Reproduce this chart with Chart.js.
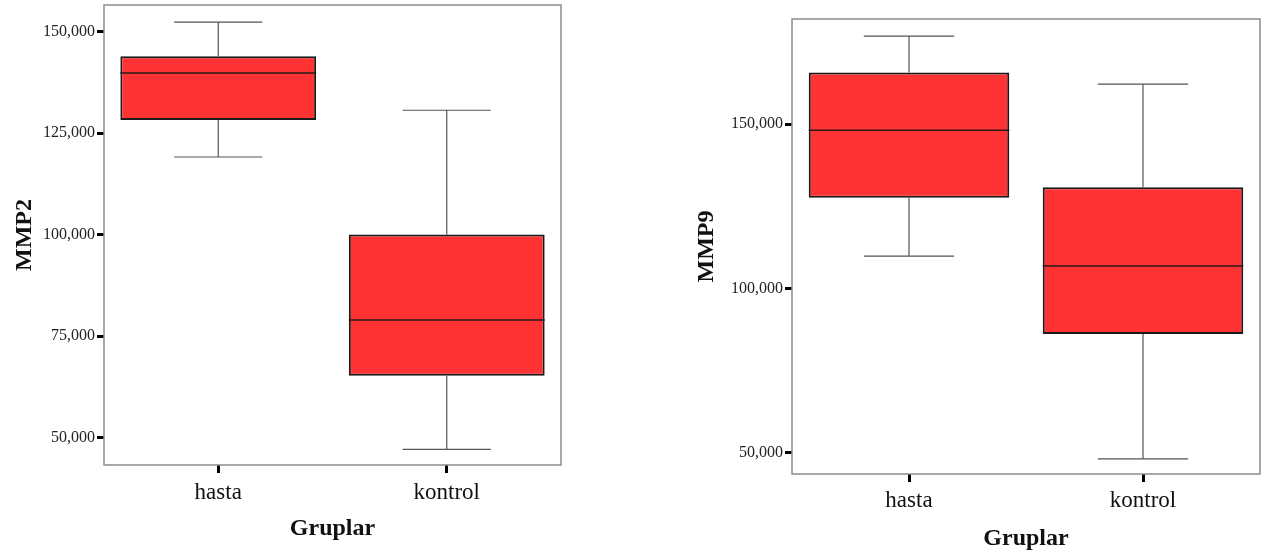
<!DOCTYPE html>
<html>
<head>
<meta charset="utf-8">
<script src="https://cdn.jsdelivr.net/npm/chart.js@4"></script>
<style>
    html, body { margin: 0; padding: 0; background: #fff; }
    body { width: 1269px; height: 554px; position: relative; overflow: hidden; }
    canvas { position: absolute; top: 0; }
    #mmp2Chart { left: 0; }
    #mmp9Chart { left: 690px; }
</style>
</head>
<body>
<canvas id="mmp2Chart" width="570" height="554"></canvas>
<canvas id="mmp9Chart" width="579" height="554"></canvas>
<script>
const groups = ['hasta', 'kontrol'];

// MMP2 kutu grafiği değerleri
const mmp2Min = [119100, 47150];
const mmp2Q1 = [128200, 65250];
const mmp2Median = [139750, 79000];
const mmp2Q3 = [143900, 100000];
const mmp2Max = [152300, 130600];
const mmp2Ticks = [50000, 75000, 100000, 125000, 150000];

// MMP9 kutu grafiği değerleri
const mmp9Min = [109800, 48100];
const mmp9Q1 = [127600, 86100];
const mmp9Median = [148100, 106800];
const mmp9Q3 = [165700, 130800];
const mmp9Max = [176800, 162200];
const mmp9Ticks = [50000, 100000, 150000];

const serif = "'Liberation Serif', 'Times New Roman', serif";

// Bıyıklar, medyan çizgisi ve çerçeve
const boxPlotExtras = {
    id: 'boxPlotExtras',
    afterDatasetsDraw(chart, args, opts) {
        const ctx = chart.ctx;
        const x = chart.scales.x;
        const y = chart.scales.y;
        const area = chart.chartArea;
        const catWidth = (area.right - area.left) / groups.length;
        const capHalf = catWidth * 0.193;
        const boxHalf = catWidth * 0.857 / 2;
        ctx.save();
        groups.forEach((g, i) => {
            const cx = x.getPixelForValue(i);
            const yMin = y.getPixelForValue(opts.min[i]);
            const yMax = y.getPixelForValue(opts.max[i]);
            const yQ1 = y.getPixelForValue(opts.q1[i]);
            const yQ3 = y.getPixelForValue(opts.q3[i]);
            const yMed = y.getPixelForValue(opts.median[i]);
            ctx.strokeStyle = '#555';
            ctx.lineWidth = 1.2;
            ctx.beginPath();
            ctx.moveTo(cx, yQ3);
            ctx.lineTo(cx, yMax);
            ctx.moveTo(cx - capHalf, yMax);
            ctx.lineTo(cx + capHalf, yMax);
            ctx.moveTo(cx, yQ1);
            ctx.lineTo(cx, yMin);
            ctx.moveTo(cx - capHalf, yMin);
            ctx.lineTo(cx + capHalf, yMin);
            ctx.stroke();
            ctx.strokeStyle = '#2a1a1a';
            ctx.lineWidth = 1.5;
            ctx.beginPath();
            ctx.moveTo(cx - boxHalf, yMed);
            ctx.lineTo(cx + boxHalf, yMed);
            ctx.stroke();
        });
        ctx.strokeStyle = '#8c8c8c';
        ctx.lineWidth = 1.5;
        ctx.strokeRect(area.left, area.top, area.right - area.left, area.bottom - area.top);
        ctx.restore();
    }
};

function createBoxChart(id, cfg) {
    const ctx = document.getElementById(id).getContext('2d');
    return new Chart(ctx, {
        type: 'bar',
        data: {
            labels: groups,
            datasets: [{
                data: groups.map((g, i) => [cfg.q1[i], cfg.q3[i]]),
                backgroundColor: '#ff3333',
                borderColor: '#1a1a1a',
                borderWidth: 2,
                borderSkipped: false,
                barPercentage: 0.857,
                categoryPercentage: 1
            }]
        },
        options: {
            responsive: false,
            animation: false,
            devicePixelRatio: 1,
            layout: { padding: cfg.padding },
            plugins: {
                legend: { display: false },
                tooltip: { enabled: false },
                boxPlotExtras: cfg
            },
            scales: {
                x: {
                    grid: {
                        offset: false,
                        drawOnChartArea: false,
                        tickLength: 8,
                        tickWidth: 3,
                        tickColor: '#000'
                    },
                    border: { display: false },
                    ticks: {
                        color: '#111',
                        padding: cfg.xTickPad,
                        font: { family: serif, size: 23 }
                    },
                    title: {
                        display: true,
                        text: 'Gruplar',
                        color: '#111',
                        padding: { top: 0, bottom: cfg.xTitlePad },
                        font: { family: serif, size: 24, weight: 'bold' }
                    },
                    afterFit(scale) {
                        scale.height = cfg.xHeight;
                        scale.paddingLeft = 0;
                        scale.paddingRight = 0;
                    }
                },
                y: {
                    min: cfg.yMin,
                    max: cfg.yMax,
                    grid: {
                        drawOnChartArea: false,
                        tickLength: 7,
                        tickWidth: 3,
                        tickColor: '#000'
                    },
                    border: { display: false },
                    ticks: {
                        color: '#222',
                        padding: 2,
                        font: { family: serif, size: 16 },
                        callback: (v) => Number(v).toLocaleString('en-US')
                    },
                    afterBuildTicks(scale) {
                        scale.ticks = cfg.ticks.map(v => ({ value: v }));
                    },
                    title: {
                        display: true,
                        text: cfg.title,
                        color: '#111',
                        padding: { top: cfg.yTitlePad, bottom: 0 },
                        font: { family: serif, size: 24, weight: 'bold' }
                    },
                    afterFit(scale) {
                        scale.width = cfg.yWidth;
                        scale.paddingTop = 0;
                        scale.paddingBottom = 0;
                    }
                }
            }
        },
        plugins: [boxPlotExtras]
    });
}

document.addEventListener('DOMContentLoaded', function () {
    createBoxChart('mmp2Chart', {
        title: 'MMP2',
        min: mmp2Min, q1: mmp2Q1, median: mmp2Median, q3: mmp2Q3, max: mmp2Max,
        ticks: mmp2Ticks,
        yMin: 43300, yMax: 156500,
        padding: { top: 5, right: 9, bottom: 0, left: 0 },
        yWidth: 104, xHeight: 89,
        xTickPad: 6, xTitlePad: 11, yTitlePad: 10
    });
    createBoxChart('mmp9Chart', {
        title: 'MMP9',
        min: mmp9Min, q1: mmp9Q1, median: mmp9Median, q3: mmp9Q3, max: mmp9Max,
        ticks: mmp9Ticks,
        yMin: 43500, yMax: 182000,
        padding: { top: 19, right: 9, bottom: 0, left: 0 },
        yWidth: 102, xHeight: 80,
        xTickPad: 5, xTitlePad: 1, yTitlePad: 2
    });
});
</script>
</body>
</html>
